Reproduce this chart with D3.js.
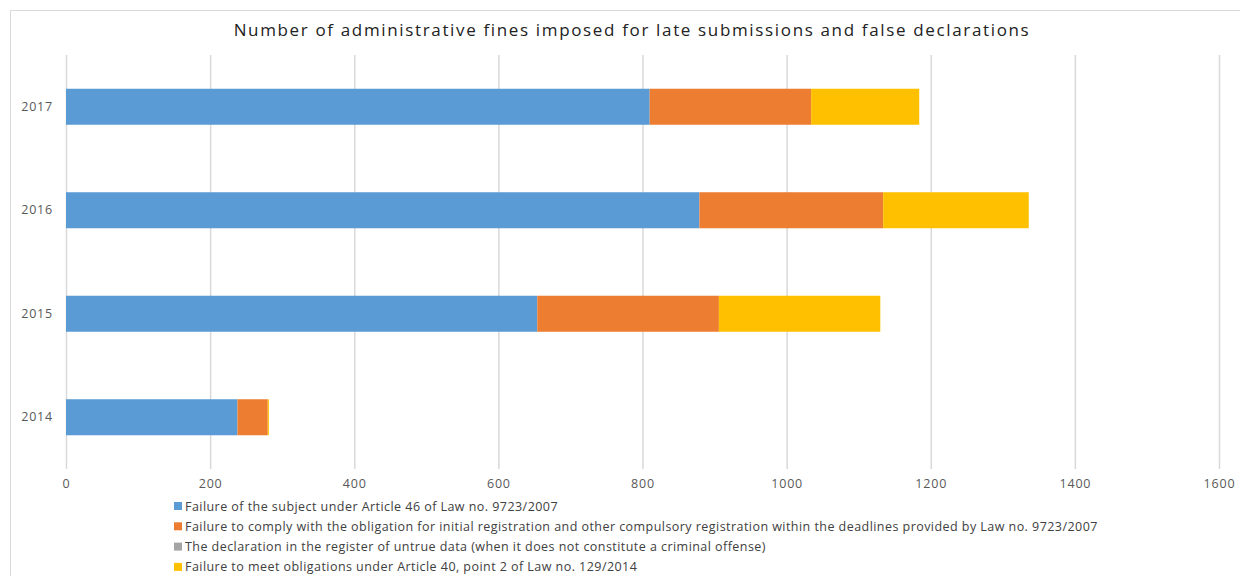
<!DOCTYPE html>
<html lang="en">
<head>
<meta charset="utf-8">
<title>Administrative fines</title>
<script src="https://cdn.jsdelivr.net/npm/d3@7"></script>
<style>
  body { margin: 0; background: #fff; }
  text { font-family: "Open Sans", "DejaVu Sans", sans-serif; }
</style>
</head>
<body>
<script>
// data
var years = ["2017", "2016", "2015", "2014"];
var article46 = [810, 879, 654, 238];
var registration = [224, 255, 252, 42];
var untrueData = [0, 0, 0, 0];
var article40 = [150, 202, 224, 1.5];
var xTicks = [0, 200, 400, 600, 800, 1000, 1200, 1400, 1600];
var seriesNames = [
  "Failure of the subject under Article 46 of Law no. 9723/2007",
  "Failure to comply with the obligation for initial registration and other compulsory registration within the deadlines provided by Law no. 9723/2007",
  "The declaration in the register of untrue data (when it does not constitute a criminal offense)",
  "Failure to meet obligations under Article 40, point 2 of Law no. 129/2014"
];
var colors = ["#5B9BD5", "#ED7D31", "#A5A5A5", "#FFC000"];

var W = 1240, H = 576;
var margin = {top: 55, right: 21, bottom: 107, left: 66};

var svg = d3.select("body").append("svg")
  .attr("width", W)
  .attr("height", H);

// outer chart border
svg.append("rect")
  .attr("x", 10.5).attr("y", 10.5)
  .attr("width", W).attr("height", H)
  .attr("fill", "none")
  .attr("stroke", "#d9d9d9");

svg.append("text")
  .attr("x", 632).attr("y", 36)
  .attr("text-anchor", "middle")
  .attr("font-size", "17px")
  .attr("letter-spacing", "1.65px")
  .attr("fill", "#222")
  .text("Number of administrative fines imposed for late submissions and false declarations");

var x = d3.scaleLinear().domain([0, 1600]).range([margin.left, W - margin.right]);
var y = d3.scaleBand().domain(years).range([margin.top, H - margin.bottom]).paddingInner(0.652).paddingOuter(0.326);

// gridlines
svg.append("g").selectAll("line")
  .data(xTicks)
  .enter().append("line")
  .attr("x1", function(d) { return x(d) + 0.5; })
  .attr("x2", function(d) { return x(d) + 0.5; })
  .attr("y1", margin.top)
  .attr("y2", H - margin.bottom)
  .attr("stroke", "#d9d9d9")
  .attr("stroke-width", 1.5);

// stacked bars
var rows = years.map(function(yr, i) {
  return {year: yr, a: article46[i], b: registration[i], c: untrueData[i], d: article40[i]};
});
var stack = d3.stack().keys(["a", "b", "c", "d"]);
var layers = stack(rows);

svg.append("g").selectAll("g")
  .data(layers)
  .enter().append("g")
  .attr("fill", function(d, i) { return colors[i]; })
  .selectAll("rect")
  .data(function(d) { return d; })
  .enter().append("rect")
  .attr("x", function(d) { return x(d[0]); })
  .attr("width", function(d) { return x(d[1]) - x(d[0]); })
  .attr("y", function(d) { return y(d.data.year); })
  .attr("height", y.bandwidth());

// axes
var xAxis = svg.append("g")
  .attr("transform", "translate(0," + (H - margin.bottom) + ")")
  .call(d3.axisBottom(x).tickValues(xTicks).tickFormat(d3.format("d")).tickSize(0).tickPadding(10));
xAxis.select(".domain").remove();
xAxis.selectAll("text")
  .attr("font-size", "12.5px")
  .attr("letter-spacing", "0.8px")
  .attr("fill", "#595959")
  .style("font-family", "'Open Sans', sans-serif");

var yAxis = svg.append("g")
  .attr("transform", "translate(" + (margin.left - 13) + ",0)")
  .call(d3.axisLeft(y).tickSize(0).tickPadding(0));
yAxis.select(".domain").remove();
yAxis.selectAll("text")
  .attr("font-size", "12.5px")
  .attr("letter-spacing", "0.8px")
  .attr("fill", "#595959")
  .style("font-family", "'Open Sans', sans-serif");

// legend
var legend = svg.append("g").selectAll("g")
  .data(seriesNames)
  .enter().append("g")
  .attr("transform", function(d, i) { return "translate(174," + (506 + i * 20.3) + ")"; });
legend.append("rect")
  .attr("x", 0).attr("y", -4)
  .attr("width", 8).attr("height", 8)
  .attr("fill", function(d, i) { return colors[i]; });
legend.append("text")
  .attr("x", 11).attr("y", 4.5)
  .attr("font-size", "12.5px")
  .attr("letter-spacing", "0.45px")
  .attr("fill", "#404040")
  .text(function(d) { return d; });
</script>
</body>
</html>
